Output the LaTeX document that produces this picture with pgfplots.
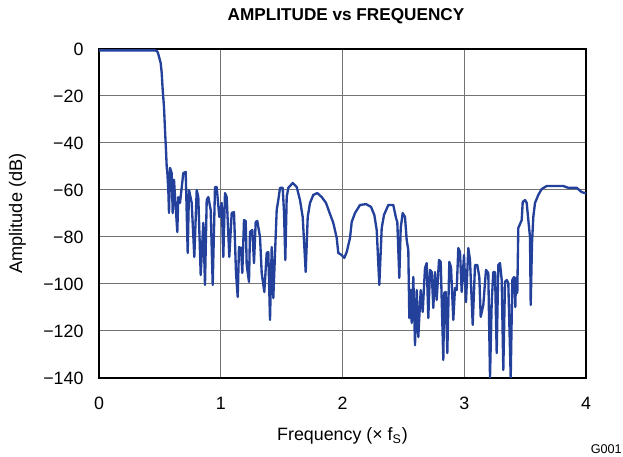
\documentclass[border=0pt]{standalone}
\usepackage{fontspec}
\setmainfont{Liberation Sans}
\usepackage{pgfplots}
\pgfplotsset{compat=1.18}
\definecolor{curve}{RGB}{35,65,155}
\begin{document}
\begin{tikzpicture}
\begin{axis}[
  scale only axis, width=292.2pt, height=197.4pt,
  xmin=0, xmax=4, ymin=-140, ymax=0,
  xtick={0,1,2,3,4}, xticklabels={0,1,2,3,4},
  ytick={-140,-120,-100,-80,-60,-40,-20,0},
  yticklabels={−140,−120,−100,−80,−60,−40,−20,0},
  major tick length=0pt,
  grid=major, major grid style={black!55, line width=0.6pt},
  axis line style={black, line width=1.2pt},
  tick label style={font=\fontsize{10.7}{12}\selectfont},
  yticklabel style={anchor=east, xshift=-5.8pt},
  xticklabel style={anchor=north, yshift=-7.8pt},
  xlabel={Frequency (× f\textsubscript{S})},
  xlabel style={at={(axis description cs:0.5,-0.1763)}, anchor=center, font=\fontsize{10.7}{12}\selectfont},
  ylabel={Amplitude (dB)},
  ylabel style={at={(axis description cs:-0.1677,0.5)}, anchor=center, rotate=0, font=\fontsize{10.9}{12}\selectfont},
]
\addplot[curve, line width=1.4pt, line join=round] coordinates {
(0,-0.6) (0.460,-0.6) (0.476,-0.9) (0.4846,-1.7) (0.5068,-6.0) (0.515,-10.2) (0.5232,-17.4)
(0.5339,-24.7) (0.5421,-34.5) (0.5503,-43.0) (0.5561,-50.2) (0.561,-52.3) (0.5692,-60.0)
(0.575,-69.8) (0.5832,-50.6) (0.5971,-52.8) (0.6053,-69.8) (0.616,-55.7) (0.6431,-77.9)
(0.6513,-63.0) (0.6653,-65.5) (0.6924,-52.8) (0.7121,-52.3) (0.7285,-86.8) (0.7392,-60.0)
(0.7614,-65.5) (0.7828,-88.5) (0.8025,-60.0) (0.8156,-63.0) (0.8353,-96.2) (0.8567,-74.0)
(0.8706,-100.4) (0.8846,-64.3) (0.8977,-63.0) (0.9175,-68.5) (0.9339,-100.4) (0.9528,-58.7)
(0.9667,-58.7) (0.9881,-71.5) (1.0078,-65.5) (1.021,-88.5) (1.0349,-61.3) (1.0489,-63.0)
(1.0702,-88.5) (1.0899,-69.8) (1.1088,-69.4) (1.1253,-95.3) (1.1392,-105.5) (1.1499,-84.3)
(1.1663,-84.7) (1.177,-95.3) (1.191,-72.8) (1.2049,-73.2) (1.2131,-91.9) (1.232,-99.1)
(1.2402,-77.9) (1.2591,-77.0) (1.2731,-91.1) (1.2871,-73.6) (1.3002,-73.2) (1.3224,-80.0)
(1.3363,-95.3) (1.3577,-103.4) (1.3774,-86.8) (1.3906,-86.4) (1.4045,-115.3) (1.4185,-84.3)
(1.4316,-106.0) (1.4595,-68.5) (1.4727,-64.3) (1.4867,-59.1) (1.5088,-59.1) (1.5195,-69.4)
(1.5302,-89.8) (1.5417,-63.0) (1.5548,-59.1) (1.591,-57.0) (1.6238,-58.7) (1.6509,-64.3)
(1.6731,-71.5) (1.6977,-94.9) (1.7142,-71.5) (1.7331,-65.5) (1.7602,-62.1) (1.793,-61.3)
(1.8292,-63.0) (1.8645,-65.5) (1.8916,-69.4) (1.9244,-74.0) (1.9524,-80.4) (1.9655,-86.8)
(1.9934,-87.7) (2.0148,-88.9) (2.0345,-86.4) (2.0616,-80.4) (2.0756,-73.6) (2.1027,-69.8)
(2.1437,-66.4) (2.193,-66.0) (2.2341,-67.2) (2.2612,-70.6) (2.2809,-77.0) (2.3023,-100.4)
(2.322,-76.2) (2.3409,-70.6) (2.3762,-66.4) (2.4172,-66.4) (2.4394,-71.9) (2.4501,-73.6)
(2.4665,-97.4) (2.478,-76.2) (2.4944,-69.8) (2.5133,-71.5) (2.5273,-81.3) (2.5405,-85.5)
(2.5487,-114.5) (2.5602,-102.6) (2.5684,-116.6) (2.5815,-97.0) (2.5955,-126.0) (2.6095,-102.6)
(2.6226,-122.6) (2.6423,-102.6) (2.6587,-111.9) (2.6776,-93.2) (2.6916,-91.1) (2.7047,-114.5)
(2.7187,-94.0) (2.7326,-94.9) (2.7458,-110.2) (2.7598,-94.9) (2.7737,-106.8) (2.7926,-89.8)
(2.8066,-90.6) (2.8279,-132.3) (2.8361,-103.8) (2.8476,-103.4) (2.8608,-129.4) (2.8772,-90.6)
(2.8912,-92.8) (2.9101,-115.3) (2.924,-101.7) (2.938,-102.6) (2.9511,-84.7) (2.9651,-86.4)
(2.979,-103.4) (2.9979,-87.7) (3.0144,-107.7) (3.0333,-84.7) (3.0472,-89.8) (3.0694,-117.4)
(3.0883,-91.9) (3.1072,-91.9) (3.1236,-97.0) (3.1351,-114.0) (3.1565,-108.9) (3.1786,-94.0)
(3.1975,-95.3) (3.2115,-139.8) (3.2255,-107.7) (3.2386,-94.9) (3.2526,-94.9) (3.2665,-129.4)
(3.2797,-91.9) (3.2936,-91.1) (3.3076,-98.3) (3.3207,-136.6) (3.3347,-99.1) (3.3487,-98.3)
(3.3618,-99.6) (3.3815,-140) (3.3947,-98.3) (3.4086,-97.0) (3.4193,-109.8) (3.4251,-97.4)
(3.4357,-103.8) (3.4439,-76.2) (3.4719,-72.8) (3.4801,-65.1) (3.499,-64.3) (3.5129,-65.5)
(3.5261,-72.8) (3.54,-80.0) (3.5458,-108.9) (3.5565,-82.6) (3.5671,-71.5) (3.5811,-65.5)
(3.6082,-62.1) (3.6361,-59.6) (3.6772,-58.3) (3.8136,-58.3) (3.8546,-59.1) (3.9236,-59.1)
(3.9647,-60.9) (3.9918,-61.3) (4,-61.5)
};
\end{axis}
\node[anchor=center, font=\bfseries\fontsize{10.3}{12}\selectfont, xshift=2.1pt, yshift=19.8pt] at (current axis.north) {AMPLITUDE vs FREQUENCY};
\node[anchor=base east, font=\fontsize{7.6}{8}\selectfont, xshift=25pt, yshift=-45.6pt] at (current axis.south east) {G001};
\pgfresetboundingbox
\path[use as bounding box] ([xshift=-59.4pt,yshift=-47.4pt]current axis.south west) rectangle ([xshift=22.2pt,yshift=29.4pt]current axis.north east);
\end{tikzpicture}
\end{document}
